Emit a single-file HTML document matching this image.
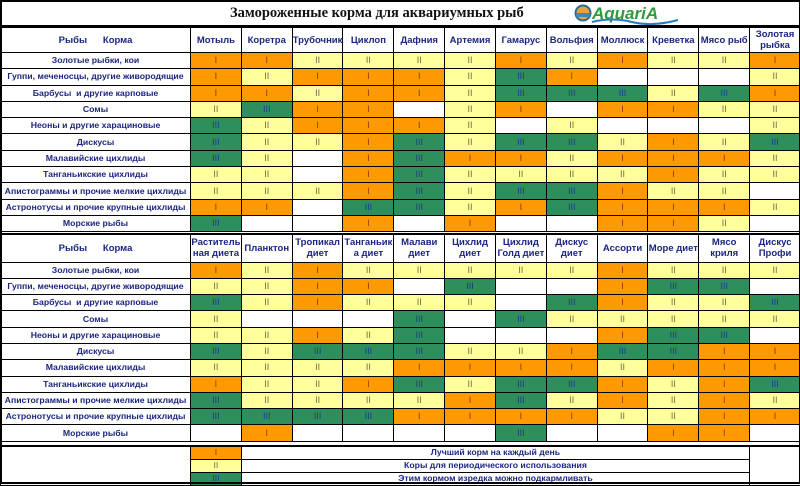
<!DOCTYPE html>
<html><head><meta charset="utf-8"><style>
*{margin:0;padding:0;box-sizing:border-box}
body{width:800px;height:484px;background:#fff;position:relative;overflow:hidden;font-family:"Liberation Sans",Arial,sans-serif}
#frame{position:absolute;left:0;top:0;width:800px;height:484px;border:2px solid #000;border-right:1px solid #000}
.title{position:absolute;left:0;top:0;width:800px;height:27px;border-bottom:2px solid #000}
.title span{position:absolute;left:230px;top:5px;font-family:"Liberation Serif",serif;font-weight:bold;font-size:14.5px;color:#111}
table{position:absolute;left:0;width:800px;border-collapse:collapse;table-layout:fixed}
td{border:1px solid #000;text-align:center;font-weight:bold;font-size:9px;color:#1c2580;overflow:hidden;white-space:nowrap;padding:0;line-height:9px}
td.l{font-size:8.7px}
th{border:1px solid #000;font-size:9.5px;color:#1c2580;font-weight:bold;line-height:11px;white-space:nowrap;padding:0}
.o{background:#fd9a02;color:#8a3a12;font-weight:normal}
.y{background:#ffff9c;color:#6e6e40;font-weight:normal}
.g{background:#2f8f5c;color:#1c3a90;font-weight:normal}
.w{background:#fff}
#t1{top:27px;height:204px}
#t1 tr.h{height:25px}
#t1 tr{height:16.3px}
#t2{top:233px;height:208px;border-top:2px solid #000}
#t2 tr.h{height:28px}
#t2 tr{height:16.3px}
#t3{top:445px;height:39px;border-top:2px solid #000}
#t3 tr{height:13px}
#t3 td{font-size:8.7px}
</style></head><body>
<div class="title"><span>Замороженные корма для аквариумных рыб</span>
<svg style="position:absolute;left:574px;top:3px" width="108" height="22" viewBox="0 0 108 22">
<circle cx="9" cy="10" r="7.5" fill="#e8a23a" stroke="#2a6a9a" stroke-width="2"/>
<rect x="2" y="10" width="14" height="4" fill="#3a8ac0"/>
<text x="18" y="16" font-family="Liberation Sans,sans-serif" font-weight="bold" font-style="italic" font-size="17" fill="#2e9a3a">AquariA</text>
<path d="M18 19 Q38 14 58 19 T104 17" stroke="#2a7ac0" stroke-width="2" fill="none"/>
</svg></div>

<table id="t1"><colgroup><col style="width:190px"><col span="12" style="width:50.83px"></colgroup>
<tr class="h"><th>Рыбы &nbsp;&nbsp;&nbsp;&nbsp; Корма</th><th>Мотыль</th><th>Коретра</th><th>Трубочник</th><th>Циклоп</th><th>Дафния</th><th>Артемия</th><th>Гамарус</th><th>Вольфия</th><th>Моллюск</th><th>Креветка</th><th>Мясо рыб</th><th>Золотая<br>рыбка</th></tr>
<tr><td class="l">Золотые рыбки, кои</td><td class="o">I</td><td class="o">I</td><td class="y">II</td><td class="y">II</td><td class="y">II</td><td class="y">II</td><td class="o">I</td><td class="y">II</td><td class="o">I</td><td class="y">II</td><td class="y">II</td><td class="o">I</td></tr>
<tr><td class="l">Гуппи, меченосцы, другие живородящие</td><td class="o">I</td><td class="y">II</td><td class="o">I</td><td class="o">I</td><td class="o">I</td><td class="y">II</td><td class="g">III</td><td class="o">I</td><td class="w"></td><td class="w"></td><td class="w"></td><td class="y">II</td></tr>
<tr><td class="l">Барбусы &nbsp;и другие карповые</td><td class="o">I</td><td class="o">I</td><td class="y">II</td><td class="o">I</td><td class="o">I</td><td class="y">II</td><td class="g">III</td><td class="g">III</td><td class="g">III</td><td class="y">II</td><td class="g">III</td><td class="o">I</td></tr>
<tr><td class="l">Сомы</td><td class="y">II</td><td class="g">III</td><td class="o">I</td><td class="o">I</td><td class="w"></td><td class="y">II</td><td class="o">I</td><td class="w"></td><td class="o">I</td><td class="o">I</td><td class="y">II</td><td class="y">II</td></tr>
<tr><td class="l">Неоны и другие харациновые</td><td class="g">III</td><td class="y">II</td><td class="o">I</td><td class="o">I</td><td class="o">I</td><td class="y">II</td><td class="w"></td><td class="y">II</td><td class="w"></td><td class="w"></td><td class="w"></td><td class="y">II</td></tr>
<tr><td class="l">Дискусы</td><td class="g">III</td><td class="y">II</td><td class="y">II</td><td class="o">I</td><td class="g">III</td><td class="y">II</td><td class="g">III</td><td class="g">III</td><td class="y">II</td><td class="o">I</td><td class="y">II</td><td class="g">III</td></tr>
<tr><td class="l">Малавийские цихлиды</td><td class="g">III</td><td class="y">II</td><td class="w"></td><td class="o">I</td><td class="g">III</td><td class="o">I</td><td class="o">I</td><td class="y">II</td><td class="o">I</td><td class="o">I</td><td class="o">I</td><td class="y">II</td></tr>
<tr><td class="l">Танганьикские цихлиды</td><td class="y">II</td><td class="y">II</td><td class="w"></td><td class="o">I</td><td class="g">III</td><td class="y">II</td><td class="y">II</td><td class="y">II</td><td class="y">II</td><td class="o">I</td><td class="y">II</td><td class="y">II</td></tr>
<tr><td class="l">Апистограммы и прочие мелкие цихлиды</td><td class="y">II</td><td class="y">II</td><td class="y">II</td><td class="o">I</td><td class="g">III</td><td class="y">II</td><td class="g">III</td><td class="g">III</td><td class="o">I</td><td class="y">II</td><td class="y">II</td><td class="w"></td></tr>
<tr><td class="l">Астронотусы и прочие крупные цихлиды</td><td class="o">I</td><td class="o">I</td><td class="w"></td><td class="g">III</td><td class="g">III</td><td class="y">II</td><td class="o">I</td><td class="g">III</td><td class="o">I</td><td class="o">I</td><td class="o">I</td><td class="y">II</td></tr>
<tr><td class="l">Морские рыбы</td><td class="g">III</td><td class="w"></td><td class="w"></td><td class="o">I</td><td class="w"></td><td class="o">I</td><td class="w"></td><td class="w"></td><td class="o">I</td><td class="o">I</td><td class="y">II</td><td class="w"></td></tr>
</table>

<table id="t2"><colgroup><col style="width:190px"><col span="12" style="width:50.83px"></colgroup>
<tr class="h"><th>Рыбы &nbsp;&nbsp;&nbsp;&nbsp; Корма</th><th>Раститель<br>ная диета</th><th>Планктон</th><th>Тропикал<br>диет</th><th>Танганьик<br>а диет</th><th>Малави<br>диет</th><th>Цихлид<br>диет</th><th>Цихлид<br>Голд диет</th><th>Дискус<br>диет</th><th>Ассорти</th><th>Море диет</th><th>Мясо<br>криля</th><th>Дискус<br>Профи</th></tr>
<tr><td class="l">Золотые рыбки, кои</td><td class="o">I</td><td class="y">II</td><td class="o">I</td><td class="y">II</td><td class="y">II</td><td class="y">II</td><td class="y">II</td><td class="y">II</td><td class="o">I</td><td class="y">II</td><td class="y">II</td><td class="y">II</td></tr>
<tr><td class="l">Гуппи, меченосцы, другие живородящие</td><td class="y">II</td><td class="y">II</td><td class="o">I</td><td class="o">I</td><td class="w"></td><td class="g">III</td><td class="w"></td><td class="w"></td><td class="o">I</td><td class="g">III</td><td class="g">III</td><td class="w"></td></tr>
<tr><td class="l">Барбусы &nbsp;и другие карповые</td><td class="g">III</td><td class="y">II</td><td class="o">I</td><td class="y">II</td><td class="y">II</td><td class="y">II</td><td class="w"></td><td class="g">III</td><td class="o">I</td><td class="y">II</td><td class="y">II</td><td class="g">III</td></tr>
<tr><td class="l">Сомы</td><td class="y">II</td><td class="w"></td><td class="w"></td><td class="w"></td><td class="g">III</td><td class="w"></td><td class="g">III</td><td class="y">II</td><td class="y">II</td><td class="y">II</td><td class="y">II</td><td class="y">II</td></tr>
<tr><td class="l">Неоны и другие харациновые</td><td class="y">II</td><td class="y">II</td><td class="o">I</td><td class="y">II</td><td class="g">III</td><td class="w"></td><td class="w"></td><td class="w"></td><td class="o">I</td><td class="g">III</td><td class="g">III</td><td class="w"></td></tr>
<tr><td class="l">Дискусы</td><td class="g">III</td><td class="y">II</td><td class="g">III</td><td class="g">III</td><td class="g">III</td><td class="y">II</td><td class="y">II</td><td class="o">I</td><td class="g">III</td><td class="g">III</td><td class="o">I</td><td class="o">I</td></tr>
<tr><td class="l">Малавийские цихлиды</td><td class="y">II</td><td class="y">II</td><td class="y">II</td><td class="y">II</td><td class="o">I</td><td class="o">I</td><td class="o">I</td><td class="o">I</td><td class="y">II</td><td class="o">I</td><td class="o">I</td><td class="o">I</td></tr>
<tr><td class="l">Танганьикские цихлиды</td><td class="o">I</td><td class="y">II</td><td class="y">II</td><td class="o">I</td><td class="g">III</td><td class="y">II</td><td class="g">III</td><td class="g">III</td><td class="o">I</td><td class="y">II</td><td class="o">I</td><td class="g">III</td></tr>
<tr><td class="l">Апистограммы и прочие мелкие цихлиды</td><td class="g">III</td><td class="y">II</td><td class="y">II</td><td class="y">II</td><td class="y">II</td><td class="o">I</td><td class="g">III</td><td class="y">II</td><td class="o">I</td><td class="y">II</td><td class="o">I</td><td class="y">II</td></tr>
<tr><td class="l">Астронотусы и прочие крупные цихлиды</td><td class="g">III</td><td class="g">III</td><td class="g">III</td><td class="g">III</td><td class="o">I</td><td class="o">I</td><td class="o">I</td><td class="o">I</td><td class="y">II</td><td class="y">II</td><td class="o">I</td><td class="o">I</td></tr>
<tr><td class="l">Морские рыбы</td><td class="w"></td><td class="o">I</td><td class="w"></td><td class="w"></td><td class="w"></td><td class="w"></td><td class="g">III</td><td class="w"></td><td class="w"></td><td class="o">I</td><td class="o">I</td><td class="w"></td></tr>
</table>

<table id="t3"><colgroup><col style="width:190px"><col style="width:50.83px"><col style="width:508.3px"><col style="width:50.87px"></colgroup>
<tr><td rowspan="3" class="w"></td><td class="o">I</td><td>Лучший корм на каждый день</td><td rowspan="3" class="w"></td></tr>
<tr><td class="y">II</td><td>Коры для периодического использования</td></tr>
<tr><td class="g">III</td><td>Этим кормом изредка можно подкармливать</td></tr>
</table>
<div id="frame"></div>
</body></html>
